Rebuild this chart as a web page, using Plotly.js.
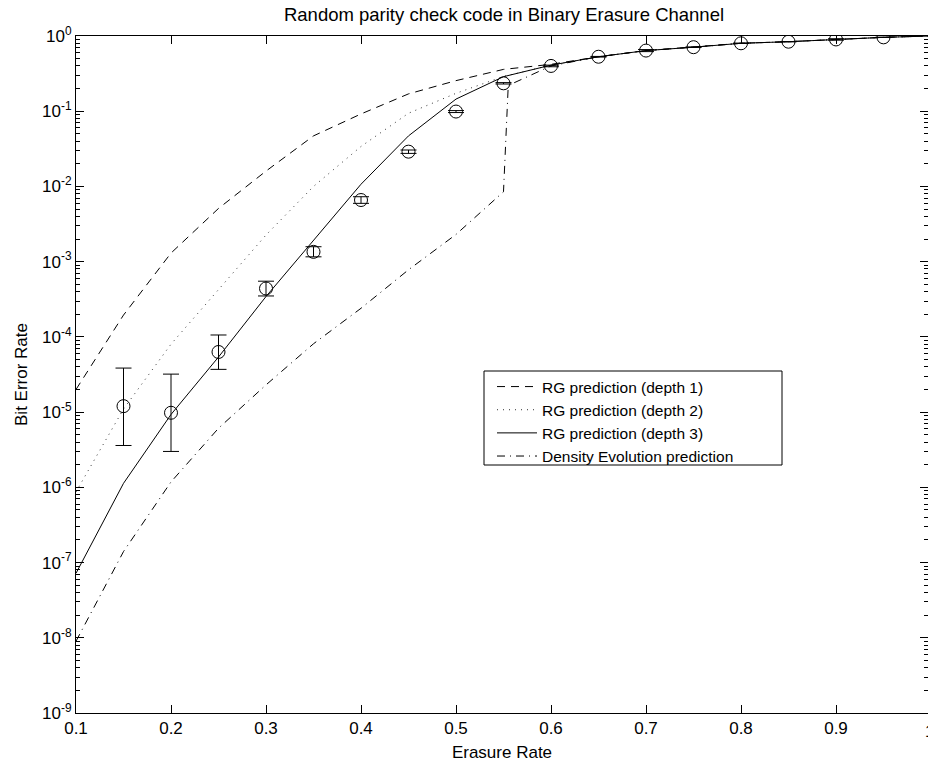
<!DOCTYPE html>
<html>
<head>
<meta charset="utf-8">
<script src="https://cdn.plot.ly/plotly-3.0.1.min.js"></script>
<style>html,body{margin:0;padding:0;background:#fff;}</style>
</head>
<body>
<div id="chart" style="width:928px;height:763px;"></div>
<script>
// Erasure-rate grid for the prediction curves
const xGrid = [0.1, 0.15, 0.2, 0.25, 0.3, 0.35, 0.4, 0.45, 0.5, 0.55, 0.6, 0.65, 0.7, 0.75, 0.8, 0.85, 0.9, 0.95, 1.0];
const rgDepth1 = [2.0e-5, 1.95e-4, 1.3e-3, 5.1e-3, 1.6e-2, 4.7e-2, 9.2e-2, 0.17, 0.255, 0.36, 0.42, 0.53, 0.64, 0.71, 0.80, 0.84, 0.90, 0.96, 1.0];
const rgDepth2 = [8.7e-7, 1.1e-5, 8.0e-5, 4.3e-4, 2.26e-3, 1.0e-2, 3.4e-2, 9.4e-2, 0.173, 0.29, 0.41, 0.53, 0.64, 0.71, 0.80, 0.84, 0.90, 0.96, 1.0];
const rgDepth3 = [7.2e-8, 1.13e-6, 9.3e-6, 5.4e-5, 3.44e-4, 1.95e-3, 1.07e-2, 4.7e-2, 0.145, 0.288, 0.41, 0.53, 0.64, 0.71, 0.80, 0.84, 0.90, 0.96, 1.0];
// Density evolution (has a jump near the threshold)
const deX = [0.1, 0.15, 0.2, 0.25, 0.3, 0.35, 0.4, 0.45, 0.5, 0.55, 0.555, 0.6, 0.65, 0.7, 0.75, 0.8, 0.85, 0.9, 0.95, 1.0];
const deY = [9.0e-9, 1.4e-7, 1.18e-6, 6.1e-6, 2.3e-5, 8.1e-5, 2.4e-4, 7.8e-4, 2.3e-3, 8.5e-3, 0.22, 0.40, 0.53, 0.64, 0.71, 0.80, 0.84, 0.90, 0.96, 1.0];
// Simulation points with error bars
const simX = [0.15, 0.2, 0.25, 0.3, 0.35, 0.4, 0.45, 0.5, 0.55, 0.6, 0.65, 0.7, 0.75, 0.8, 0.85, 0.9, 0.95];
const simY = [1.2e-5, 9.8e-6, 6.3e-5, 4.4e-4, 1.35e-3, 6.6e-3, 2.9e-2, 0.099, 0.235, 0.40, 0.53, 0.64, 0.71, 0.80, 0.84, 0.90, 0.96];
const simHi = [3.85e-5, 3.2e-5, 1.06e-4, 5.5e-4, 1.58e-3, 7.3e-3, 3.05e-2, 0.102, 0.24, 0.41, 0.535, 0.66, 0.715, 0.805, 0.845, 0.92, 0.965];
const simLo = [3.6e-6, 3.0e-6, 3.7e-5, 3.5e-4, 1.16e-3, 5.96e-3, 2.75e-2, 0.096, 0.23, 0.39, 0.525, 0.62, 0.705, 0.795, 0.835, 0.88, 0.955];
const seriesNames = ["RG prediction (depth 1)", "RG prediction (depth 2)", "RG prediction (depth 3)", "Density Evolution prediction"];
const xTicks = [0.1, 0.2, 0.3, 0.4, 0.5, 0.6, 0.7, 0.8, 0.9];
const yExps = [-9, -8, -7, -6, -5, -4, -3, -2, -1, 0];

const FONT = "Liberation Sans, Arial, Helvetica, sans-serif";

const traces = [
  {x: xGrid, y: rgDepth1, name: seriesNames[0], mode: "lines",
   line: {color: "#000", width: 1, dash: "8px,6px"}},
  {x: xGrid, y: rgDepth2, name: seriesNames[1], mode: "lines",
   line: {color: "#333", width: 1, dash: "1px,5px"}},
  {x: xGrid, y: rgDepth3, name: seriesNames[2], mode: "lines",
   line: {color: "#000", width: 1}},
  {x: deX, y: deY, name: seriesNames[3], mode: "lines",
   line: {color: "#000", width: 1, dash: "8px,5px,1px,5px"}},
  {x: simX, y: simY, mode: "markers", showlegend: false,
   marker: {symbol: "circle-open", size: 13, color: "#000", line: {width: 1, color: "#000"}},
   error_y: {type: "data", symmetric: false,
     array: simHi.map((h, i) => h - simY[i]),
     arrayminus: simLo.map((l, i) => simY[i] - l),
     width: 8, thickness: 1, color: "#000"}}
];

const minorVals = [];
for (const e of yExps) { if (e < 0) for (let m = 2; m <= 9; m++) minorVals.push(m * Math.pow(10, e)); }

// legend frame in pixel terms of the plot area (left 76, top 36, width 852, height 677)
const PL = 76, PT = 36, PW = 852, PH = 677;
const px2x = p => (p - PL) / PW;
const px2y = p => (PT + PH - p) / PH;

const layout = {
  width: 928, height: 763,
  margin: {l: 76, r: 0, t: 36, b: 50, pad: 0},
  paper_bgcolor: "#fff", plot_bgcolor: "#fff",
  font: {family: FONT, size: 17, color: "#000"},
  showlegend: true,
  title: {text: "Random parity check code in Binary Erasure Channel",
    font: {family: FONT, size: 18.5, color: "#000"},
    x: 504 / 928, xref: "container", xanchor: "center", y: 1 - 15 / 763, yref: "container", yanchor: "middle"},
  xaxis: {
    range: [0.1, 0.1 + 852 / 950], type: "linear",
    tickmode: "array", tickvals: xTicks, ticktext: xTicks.map(v => v.toFixed(1)),
    ticks: "inside", ticklen: 8, tickwidth: 1, tickcolor: "#000",
    showline: true, linecolor: "#000", linewidth: 1, mirror: "ticks",
    showgrid: false, zeroline: false,
    tickfont: {family: FONT, size: 17},
    title: {text: "Erasure Rate", font: {family: FONT, size: 17}, standoff: 8}
  },
  yaxis: {
    type: "log", range: [-9, 0],
    tickmode: "array", tickvals: yExps.map(e => Math.pow(10, e)),
    ticktext: yExps.map(e => "10<sup>" + e + "</sup>"),
    ticks: "inside", ticklen: 8, tickwidth: 1, tickcolor: "#000",
    showline: true, linecolor: "#000", linewidth: 1, mirror: "ticks",
    showgrid: false, zeroline: false,
    tickfont: {family: FONT, size: 17},
    minor: {tickmode: "array", tickvals: minorVals, ticks: "inside", ticklen: 4, tickwidth: 1, tickcolor: "#000", showgrid: false},
    title: {text: "Bit Error Rate", font: {family: FONT, size: 17}, standoff: 10}
  },
  legend: {
    x: px2x(492), y: px2y(370), xanchor: "left", yanchor: "top",
    bgcolor: "rgba(0,0,0,0)", borderwidth: 0,
    font: {family: FONT, size: 15.5, color: "#000"},
    itemwidth: 40, tracegroupgap: 0
  },
  shapes: [
    {type: "rect", xref: "paper", yref: "paper", layer: "above",
     x0: px2x(484), x1: px2x(782), y0: px2y(465), y1: px2y(371),
     line: {color: "#000", width: 1}, fillcolor: "#fff"}
  ],
  annotations: [
    {text: "1", xref: "paper", yref: "paper", x: 1 + 2 / 852, y: 0, yshift: -18,
     xanchor: "center", yanchor: "middle", showarrow: false, font: {family: FONT, size: 17}}
  ]
};

Plotly.newPlot("chart", traces, layout, {displayModeBar: false, staticPlot: true});
</script>
</body>
</html>
